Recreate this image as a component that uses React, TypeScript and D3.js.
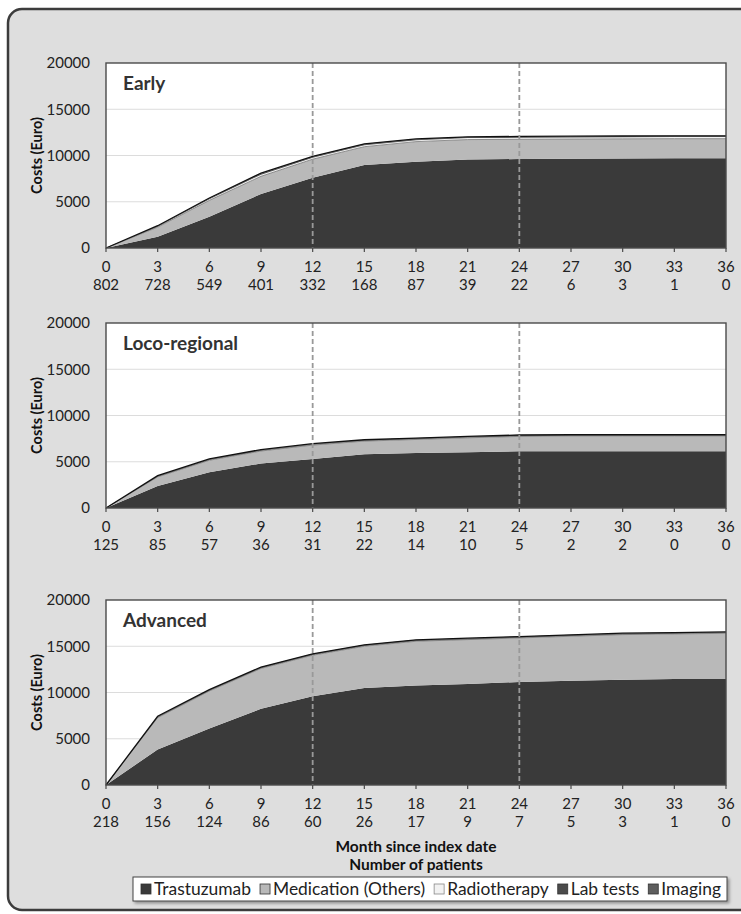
import React from "react";
import * as d3 from "d3";

const months = [0, 3, 6, 9, 12, 15, 18, 21, 24, 27, 30, 33, 36];
const seriesKeys = ["Trastuzumab", "Medication (Others)", "Radiotherapy", "Lab tests", "Imaging"];
const yTicks = [0, 5000, 10000, 15000, 20000];
const refMonths = [12, 24];

// Early
const earlyPatients = [802, 728, 549, 401, 332, 168, 87, 39, 22, 6, 3, 1, 0];
const earlyTrastuzumab = [0, 1220, 3380, 5840, 7600, 8970, 9330, 9560, 9620, 9650, 9680, 9700, 9700];
const earlyMedication = [0, 1030, 1770, 1910, 2000, 1980, 2170, 2160, 2130, 2130, 2120, 2120, 2120];
const earlyRadiotherapy = [0, 60, 120, 170, 150, 150, 150, 160, 170, 170, 170, 170, 170];
const earlyLab = [0, 60, 80, 100, 90, 100, 80, 80, 80, 80, 80, 80, 80];
const earlyImaging = [0, 40, 60, 70, 60, 60, 60, 60, 60, 60, 60, 60, 60];

// Loco-regional
const locoPatients = [125, 85, 57, 36, 31, 22, 14, 10, 5, 2, 2, 0, 0];
const locoTrastuzumab = [0, 2370, 3870, 4810, 5310, 5810, 5950, 6020, 6130, 6130, 6130, 6130, 6130];
const locoMedication = [0, 990, 1290, 1350, 1490, 1420, 1460, 1570, 1610, 1640, 1640, 1640, 1640];
const locoRadiotherapy = [0, 20, 30, 30, 30, 30, 30, 30, 30, 30, 30, 30, 30];
const locoLab = [0, 70, 70, 70, 70, 70, 70, 70, 70, 70, 70, 70, 70];
const locoImaging = [0, 50, 50, 50, 50, 50, 50, 50, 50, 50, 50, 50, 50];

// Advanced
const advPatients = [218, 156, 124, 86, 60, 26, 17, 9, 7, 5, 3, 1, 0];
const advTrastuzumab = [0, 3840, 6110, 8230, 9590, 10490, 10770, 10910, 11140, 11280, 11380, 11450, 11450];
const advMedication = [0, 3440, 4050, 4370, 4440, 4510, 4770, 4810, 4760, 4800, 4880, 4880, 4950];
const advRadiotherapy = [0, 20, 20, 20, 20, 20, 20, 20, 20, 20, 20, 20, 20];
const advLab = [0, 80, 80, 80, 80, 80, 80, 80, 80, 80, 80, 80, 80];
const advImaging = [0, 50, 50, 50, 50, 50, 50, 50, 50, 50, 50, 50, 50];

const panelTitles = ["Early", "Loco-regional", "Advanced"];
const panelData = [
  [earlyTrastuzumab, earlyMedication, earlyRadiotherapy, earlyLab, earlyImaging],
  [locoTrastuzumab, locoMedication, locoRadiotherapy, locoLab, locoImaging],
  [advTrastuzumab, advMedication, advRadiotherapy, advLab, advImaging],
];
const panelPatients = [earlyPatients, locoPatients, advPatients];

const colors = ["#3a3a3a", "#b9b9b9", "#f2f2f2", "#4b4b4b", "#5e5e5e"];
const FONT = "Lato, 'Open Sans', sans-serif";

const plotLeft = 106;
const plotRight = 726;
const panelTops = [63, 323, 600];
const plotH = 185;

function Panel({ idx }: { idx: number }) {
  const top = panelTops[idx];
  const x = d3.scaleLinear().domain([0, 36]).range([plotLeft, plotRight]);
  const y = d3.scaleLinear().domain([0, 20000]).range([top + plotH, top]);
  const rows = months.map((m, i) => {
    const r: any = { month: m };
    seriesKeys.forEach((k, j) => (r[k] = panelData[idx][j][i]));
    return r;
  });
  const stacked = d3.stack().keys(seriesKeys)(rows);
  const area = d3
    .area<any>()
    .x((d) => x(d.data.month))
    .y0((d) => y(d[0]))
    .y1((d) => y(d[1]));
  const line = d3
    .line<any>()
    .x((d) => x(d.data.month))
    .y((d) => y(d[1]));
  const patients = panelPatients[idx];
  const bottom = top + plotH;
  return (
    <g>
      <rect x={plotLeft} y={top} width={plotRight - plotLeft} height={plotH} fill="#fff" />
      {yTicks.slice(1, -1).map((t) => (
        <line key={t} x1={plotLeft} x2={plotRight} y1={y(t)} y2={y(t)} stroke="#dcdcdc" strokeWidth={1} />
      ))}
      {stacked.map((s, j) => (
        <path key={j} d={area(s) || ""} fill={colors[j]} />
      ))}
      <path d={line(stacked[1]) || ""} fill="none" stroke="#777" strokeWidth={0.8} />
      <path d={line(stacked[4]) || ""} fill="none" stroke="#111" strokeWidth={1.3} />
      {refMonths.map((m) => (
        <line key={m} x1={x(m)} x2={x(m)} y1={top} y2={bottom} stroke="#999" strokeWidth={1.8} strokeDasharray="5,3" />
      ))}
      <rect x={plotLeft} y={top} width={plotRight - plotLeft} height={plotH} fill="none" stroke="#4a4a4a" strokeWidth={1.4} />
      {months.map((m) => (
        <line key={m} x1={x(m)} x2={x(m)} y1={bottom} y2={bottom + 4} stroke="#4a4a4a" strokeWidth={1.2} />
      ))}
      {yTicks.map((t) => (
        <text key={t} x={90} y={y(t)} dy="0.35em" textAnchor="end" fontSize={15} fontFamily={FONT} fill="#222">
          {t}
        </text>
      ))}
      {months.map((m, i) => (
        <g key={m}>
          <text x={x(m)} y={bottom + 24} textAnchor="middle" fontSize={15} fontFamily={FONT} fill="#222">
            {m}
          </text>
          <text x={x(m)} y={bottom + 42} textAnchor="middle" fontSize={15} fontFamily={FONT} fill="#222">
            {patients[i]}
          </text>
        </g>
      ))}
      <text x={plotLeft + 17} y={top + 27} fontSize={19} fontWeight="bold" fontFamily={FONT} fill="#333">
        {panelTitles[idx]}
      </text>
      <text
        transform={`translate(42,${top + plotH / 2}) rotate(-90)`}
        textAnchor="middle"
        fontSize={14.5}
        fontWeight="bold"
        fontFamily={FONT}
        fill="#111"
      >
        Costs (Euro)
      </text>
    </g>
  );
}

function legendLayout() {
  const startX = 141;
  const endX = 721;
  const sq = 10;
  const gapIn = 3;
  const gapOut = 9;
  let ctx: CanvasRenderingContext2D | null = null;
  try {
    ctx = document.createElement("canvas").getContext("2d");
  } catch (e) {
    ctx = null;
  }
  const base = 15;
  const widths = seriesKeys.map((k) => {
    if (ctx) {
      ctx.font = `${base}px Lato`;
      return ctx.measureText(k).width;
    }
    return k.length * base * 0.5;
  });
  const textSum = d3.sum(widths);
  const fixed = seriesKeys.length * (sq + gapIn) + (seriesKeys.length - 1) * gapOut;
  const scale = (endX - startX - fixed) / textSum;
  const fontSize = base * scale;
  const xs: number[] = [];
  let cx = startX;
  widths.forEach((w) => {
    xs.push(cx);
    cx += sq + gapIn + w * scale + gapOut;
  });
  return { xs, fontSize, sq, gapIn };
}

export default function App() {
  const lg = legendLayout();
  return (
    <svg width={741} height={914} style={{ position: "absolute", left: 0, top: 0 }}>
      <defs>
        <filter id="sh" x="-5%" y="-30%" width="110%" height="160%">
          <feDropShadow dx="2" dy="2" stdDeviation="1.5" floodColor="#000" floodOpacity="0.35" />
        </filter>
      </defs>
      <rect x={0} y={0} width={741} height={914} fill="#fff" />
      <rect x={8} y={9} width={760} height={901} rx={14} fill="#dedede" stroke="#3c3c3c" strokeWidth={2.5} />
      {panelTitles.map((_, i) => (
        <Panel key={i} idx={i} />
      ))}
      <text x={416} y={852} textAnchor="middle" fontSize={15.5} fontWeight="bold" fontFamily={FONT} fill="#111">
        Month since index date
      </text>
      <text x={416} y={870} textAnchor="middle" fontSize={15.5} fontWeight="bold" fontFamily={FONT} fill="#111">
        Number of patients
      </text>
      <rect x={133} y={877} width={594} height={24} fill="#fff" stroke="#444" strokeWidth={1} filter="url(#sh)" />
      {seriesKeys.map((k, j) => (
        <g key={k}>
          <rect x={lg.xs[j]} y={884} width={lg.sq} height={lg.sq} fill={colors[j]} stroke={j === 2 ? "#888" : "#333"} strokeWidth={0.8} />
          <text x={lg.xs[j] + lg.sq + lg.gapIn} y={894.5} fontSize={lg.fontSize} fontFamily={FONT} fill="#222">
            {k}
          </text>
        </g>
      ))}
    </svg>
  );
}
